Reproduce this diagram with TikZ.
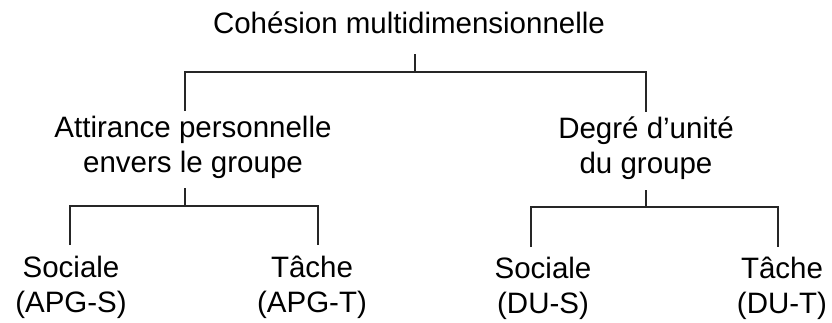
\documentclass[tikz,border=0pt]{standalone}
\usepackage{fontspec}
\setmainfont{Liberation Sans}
\begin{document}
\begin{tikzpicture}[x=1pt,y=-1pt,
  lbl/.style={font=\fontsize{29.5}{35}\selectfont, align=center, inner sep=0pt, anchor=base},
  link/.style={line width=2pt, black!85}]
\useasboundingbox (0,0) rectangle (832,322);

% labels (anchored at the baseline of their last line)
\node[lbl] (root) at (409,33) {Cohésion multidimensionnelle};
\node[lbl] (apg) at (193,172) {Attirance personnelle\\envers le groupe};
\node[lbl] (du) at (646,173) {Degré d’unité\\du groupe};
\node[lbl] (apgs) at (71,312) {Sociale\\(APG-S)};
\node[lbl] (apgt) at (312,312) {Tâche\\(APG-T)};
\node[lbl] (dus) at (543,313) {Sociale\\(DU-S)};
\node[lbl] (dut) at (782,313) {Tâche\\(DU-T)};

% junction points of the brackets
\coordinate (rootStub) at (415,54);
\coordinate (rootJ) at (415,72);
\coordinate (apgTop) at (185,111);
\coordinate (duTop) at (646,112);
\coordinate (apgStub) at (185,188);
\coordinate (apgJ) at (185,206);
\coordinate (apgsTop) at (70,245);
\coordinate (apgtTop) at (318,245);
\coordinate (duStub) at (646,190);
\coordinate (duJ) at (646,207);
\coordinate (dusTop) at (531,247);
\coordinate (dutTop) at (778,247);

% brackets
\draw[link] (rootStub) -- (rootJ);
\draw[link] (apgTop) |- (rootJ) -| (duTop);
\draw[link] (apgStub) -- (apgJ);
\draw[link] (apgsTop) |- (apgJ) -| (apgtTop);
\draw[link] (duStub) -- (duJ);
\draw[link] (dusTop) |- (duJ) -| (dutTop);
\end{tikzpicture}
\end{document}
